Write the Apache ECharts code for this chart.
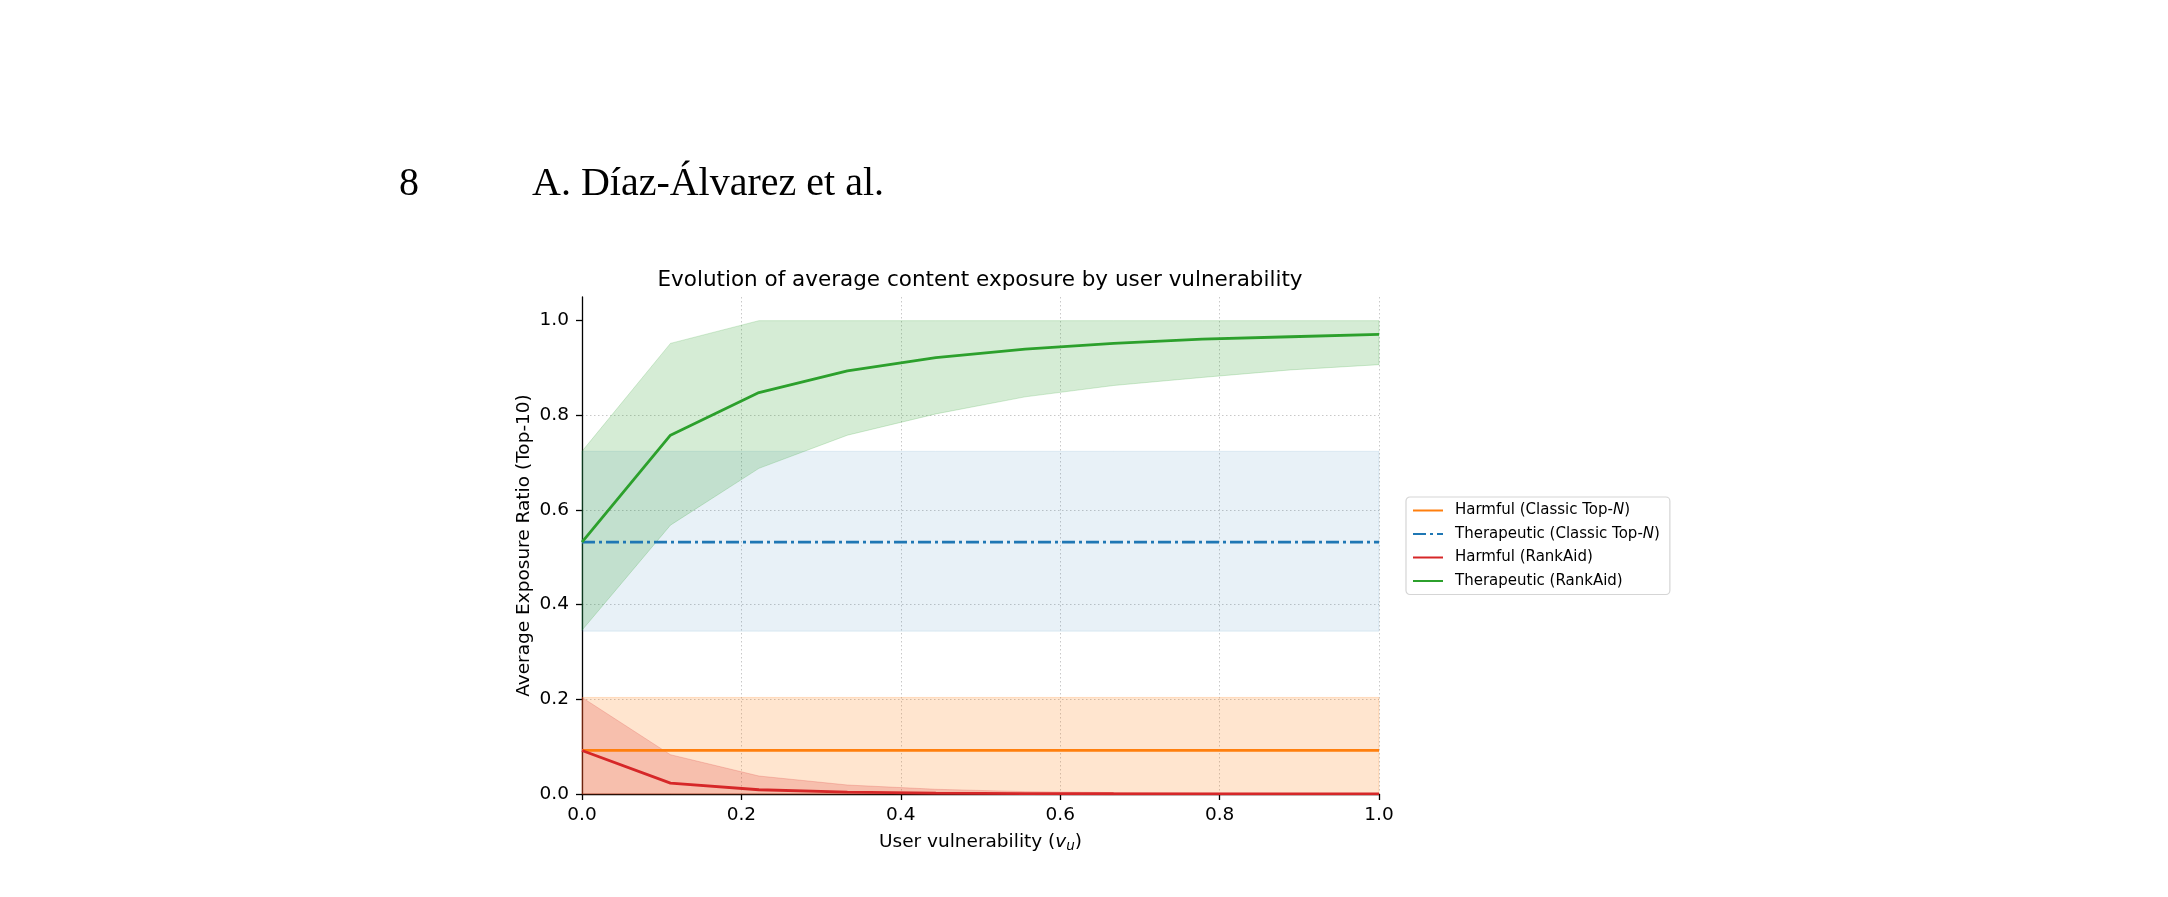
<!DOCTYPE html>
<html>
<head>
<meta charset="utf-8">
<script src="https://cdn.jsdelivr.net/npm/echarts@6/dist/echarts.min.js"></script>
<style>html,body{margin:0;padding:0;background:#fff;}#c{width:2168px;height:897px;}</style>
</head>
<body>
<div id="c"></div>
<script>
// ---- data ----
const xs = [0, 0.111, 0.222, 0.333, 0.444, 0.556, 0.667, 0.778, 0.889, 1.0];
const xTicks = [0, 0.2, 0.4, 0.6, 0.8, 1.0];
const yTicks = [0, 0.2, 0.4, 0.6, 0.8, 1.0];

const classicHarmMean = [0.092, 0.092, 0.092, 0.092, 0.092, 0.092, 0.092, 0.092, 0.092, 0.092];
const classicHarmLo   = [0, 0, 0, 0, 0, 0, 0, 0, 0, 0];
const classicHarmHi   = [0.204, 0.204, 0.204, 0.204, 0.204, 0.204, 0.204, 0.204, 0.204, 0.204];

const classicTherMean = [0.532, 0.532, 0.532, 0.532, 0.532, 0.532, 0.532, 0.532, 0.532, 0.532];
const classicTherLo   = [0.344, 0.344, 0.344, 0.344, 0.344, 0.344, 0.344, 0.344, 0.344, 0.344];
const classicTherHi   = [0.724, 0.724, 0.724, 0.724, 0.724, 0.724, 0.724, 0.724, 0.724, 0.724];

const rankHarmMean = [0.092, 0.023, 0.009, 0.004, 0.002, 0.001, 0.0005, 0.0002, 0.0001, 0.0001];
const rankHarmLo   = [0, 0, 0, 0, 0, 0, 0, 0, 0, 0];
const rankHarmHi   = [0.204, 0.083, 0.038, 0.019, 0.010, 0.005, 0.003, 0.002, 0.001, 0.001];

const rankTherMean = [0.532, 0.758, 0.848, 0.894, 0.922, 0.940, 0.952, 0.961, 0.966, 0.971];
const rankTherLo   = [0.346, 0.568, 0.688, 0.758, 0.803, 0.839, 0.863, 0.880, 0.896, 0.907];
const rankTherHi   = [0.724, 0.952, 1.0, 1.0, 1.0, 1.0, 1.0, 1.0, 1.0, 1.0];

const names = ['Harmful (Classic Top-N)', 'Therapeutic (Classic Top-N)', 'Harmful (RankAid)', 'Therapeutic (RankAid)'];

// ---- styles ----
const C_ORANGE = '#ff7f0e', C_BLUE = '#1f77b4', C_RED = '#d62728', C_GREEN = '#2ca02c';
const FONT = 'DejaVu Sans';
const FS = 18.5;

function rgba(hex, a) {
  const n = parseInt(hex.slice(1), 16);
  return 'rgba(' + ((n >> 16) & 255) + ',' + ((n >> 8) & 255) + ',' + (n & 255) + ',' + a + ')';
}

function band(lo, hi, color, alpha, z) {
  const data = xs.map((x, i) => [x, lo[i], hi[i]]);
  return {
    type: 'custom', silent: true, z: z, data: data,
    encode: { x: 0, y: [1, 2] },
    renderItem: function (params, api) {
      if (params.dataIndex !== 0) return null;
      const top = data.map(d => api.coord([d[0], d[2]]));
      const bot = data.map(d => api.coord([d[0], d[1]])).reverse();
      return {
        type: 'polygon',
        shape: { points: top.concat(bot) },
        style: { fill: rgba(color, alpha), stroke: rgba(color, alpha), lineWidth: 1 }
      };
    }
  };
}

function line(name, mean, color, type, z) {
  return {
    name: name, type: 'line', z: z, symbol: 'none', silent: true,
    data: xs.map((x, i) => [x, mean[i]]),
    lineStyle: { color: color, width: 2.8, type: type },
    itemStyle: { color: color }
  };
}

const chart = echarts.init(document.getElementById('c'), null, { renderer: 'canvas' });

const axisCommon = {
  axisLine: { show: true, onZero: false, lineStyle: { color: '#000', width: 1.3 } },
  axisTick: { show: true, inside: false, length: 6, lineStyle: { color: '#000', width: 1.3 } },
  axisLabel: { color: '#000', fontFamily: FONT, fontSize: FS, formatter: v => v.toFixed(1) },
  splitLine: { show: true, showMinLine: false, lineStyle: { color: '#c8c8c8', width: 1, type: [1.5, 2.5] } },
  nameTextStyle: { color: '#000', fontFamily: FONT, fontSize: FS }
};

chart.setOption({
  animation: false,
  backgroundColor: '#fff',
  grid: { left: 582, right: 789, top: 297, bottom: 103, containLabel: false, outerBoundsMode: 'none' },
  xAxis: Object.assign({}, axisCommon, {
    type: 'value', min: 0, max: 1, interval: 0.2,
    axisLabel: Object.assign({}, axisCommon.axisLabel, { margin: 12, customValues: xTicks }),
    axisTick: Object.assign({}, axisCommon.axisTick, { customValues: xTicks }),
    name: 'User vulnerability ({i|v}{s|u})',
    nameLocation: 'middle', nameGap: 37,
    nameTextStyle: Object.assign({}, axisCommon.nameTextStyle, {
      rich: {
        i: { fontFamily: FONT, fontSize: FS, fontStyle: 'italic', color: '#000' },
        s: { fontFamily: FONT, fontSize: 13.5, fontStyle: 'italic', color: '#000', verticalAlign: 'bottom', padding: [8, 0, 0, 0] }
      }
    })
  }),
  yAxis: Object.assign({}, axisCommon, {
    type: 'value', min: 0, max: 1.05, interval: 0.2,
    axisLabel: Object.assign({}, axisCommon.axisLabel, { margin: 13, customValues: yTicks }),
    axisTick: Object.assign({}, axisCommon.axisTick, { customValues: yTicks }),
    splitLine: Object.assign({}, axisCommon.splitLine, { showMaxLine: false }),
    name: 'Average Exposure Ratio (Top-10)',
    nameLocation: 'middle', nameGap: 48, nameRotate: 90
  }),
  legend: {
    data: names,
    orient: 'vertical', left: 1406, top: 497,
    padding: [6, 10, 6, 6],
    itemWidth: 30, itemHeight: 14, itemGap: 8.5,
    borderColor: '#d5d5d5', borderWidth: 1.2, borderRadius: 4,
    backgroundColor: '#fff',
    itemStyle: { opacity: 0 },
    textStyle: {
      color: '#000', fontFamily: FONT, fontSize: 15, padding: [0, 0, 0, 7],
      rich: { i: { fontFamily: FONT, fontSize: 15, fontStyle: 'italic', color: '#000' } }
    },
    formatter: function (n) { return n.replace('Top-N', 'Top-{i|N}'); },
    selectedMode: false
  },
  graphic: [
    { type: 'text', left: 399, top: 164, style: { text: '8', font: '40px "Liberation Serif"', fill: '#000' } },
    { type: 'text', left: 532, top: 164, style: { text: 'A. Díaz-Álvarez et al.', font: '40px "Liberation Serif"', fill: '#000' } },
    { type: 'text', x: 980, y: 280, style: { text: 'Evolution of average content exposure by user vulnerability', font: '21.5px "DejaVu Sans"', fill: '#000', textAlign: 'center', textVerticalAlign: 'middle' } }
  ],
  series: [
    band(classicHarmLo, classicHarmHi, C_ORANGE, 0.2, 1),
    band(classicTherLo, classicTherHi, C_BLUE, 0.1, 1),
    band(rankHarmLo, rankHarmHi, C_RED, 0.2, 1),
    band(rankTherLo, rankTherHi, C_GREEN, 0.2, 1),
    line(names[0], classicHarmMean, C_ORANGE, 'solid', 3),
    line(names[1], classicTherMean, C_BLUE, [13, 4, 3, 4], 3),
    line(names[2], rankHarmMean, C_RED, 'solid', 3),
    line(names[3], rankTherMean, C_GREEN, 'solid', 3)
  ]
});
</script>
</body>
</html>
